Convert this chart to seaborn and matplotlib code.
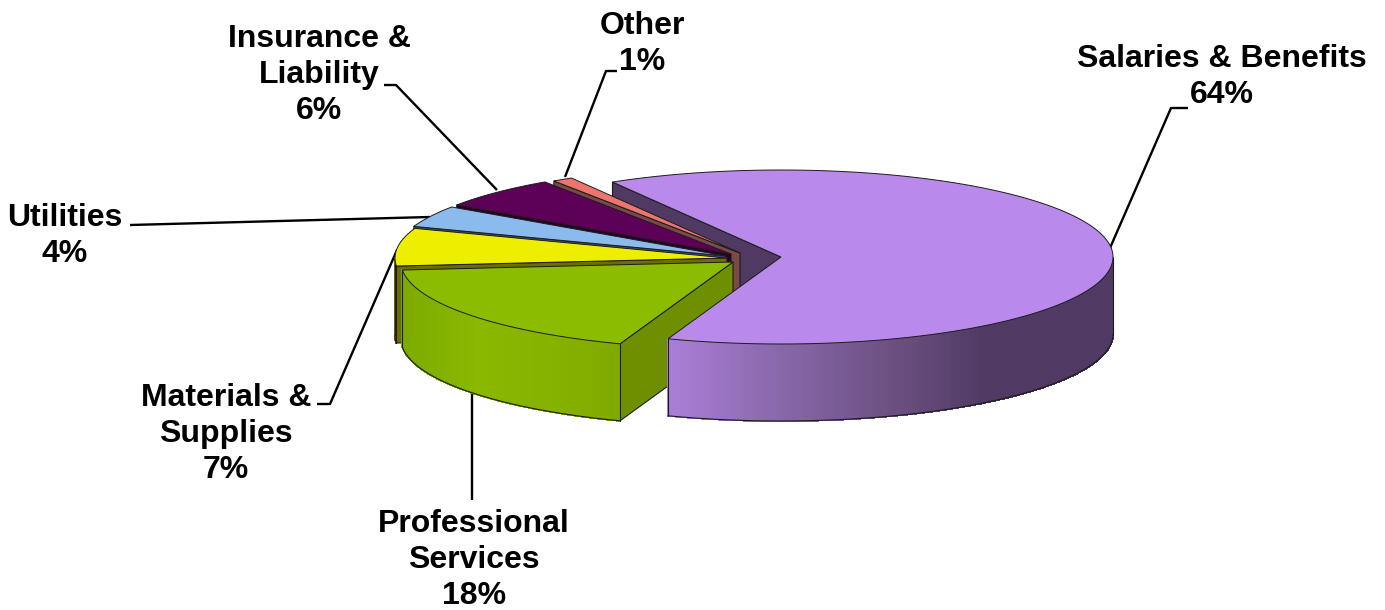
import numpy as np
import matplotlib
matplotlib.use("Agg")
import matplotlib.pyplot as plt
from matplotlib.collections import PolyCollection
from matplotlib.patches import Polygon
import seaborn as sns

# Budget shares, clockwise from the start angle
categories = ["Salaries & Benefits", "Professional\nServices", "Materials &\nSupplies",
              "Utilities", "Insurance &\nLiability", "Other"]
shares = [64, 18, 7, 4, 6, 1]

top_colors = ["#b98aec", "#8cbc00", "#eeee00", "#8abbec", "#5c0058", "#ee7470"]
wall_colors = ["#503a64", "#6e9000", "#6e6e00", "#3c5268", "#2a0028", "#7a4a48"]
# Shading stops along the rim: (left x, right x, colours)
rim_shades = {
    0: (669, 985, ["#a87fd6", "#8a68ab", "#6f5285", "#503a64"]),
    1: (403, 622, ["#7dab00", "#8ab800", "#86b200", "#80a800"]),
}

# Exploded slice apex positions, in figure pixels
apexes = [(781, 257), (733, 262), (727, 258), (726, 256), (731, 254), (740, 253)]

# Labels: text centre and leader path
label_pos = [(1222, 77), (474, 560), (226, 434), (65, 236), (319, 75), (642, 44)]
leaders = [
    [(1110, 248), (1171, 108), (1188, 108)],
    [(472, 393), (472, 500)],
    [(397, 250), (330, 404), (317, 404)],
    [(430, 217), (130, 225)],
    [(497, 190), (396, 85), (384, 85)],
    [(565, 177), (606, 71), (617, 71)],
]

RX, RY, DEPTH = 332, 87, 77
START = 120.5
EDGE = "#1c1c1c"

sns.set_theme(style="white")
plt.rcParams["font.family"] = ["Liberation Sans", "DejaVu Sans"]

fig = plt.figure(figsize=(13.85, 6.10), dpi=100, facecolor="white")
ax = fig.add_axes([0, 0, 1, 1])
ax.set_xlim(0, 1385)
ax.set_ylim(610, 0)
ax.axis("off")

cum = np.cumsum([0] + shares)
spans = [(START - cum[i] * 3.6, START - cum[i + 1] * 3.6) for i in range(len(shares))]


def rim_point(i, deg):
    cx, cy = apexes[i]
    t = np.radians(deg)
    return cx + RX * np.cos(t), cy - RY * np.sin(t)


def side_wall(i, deg, zorder):
    """Flat cut face running from the apex to the rim at a given angle."""
    cx, cy = apexes[i]
    x, y = rim_point(i, deg)
    ax.add_patch(Polygon([(cx, cy), (x, y), (x, y + DEPTH), (cx, cy + DEPTH)], closed=True,
                         facecolor=wall_colors[i], edgecolor=EDGE, lw=0.8, zorder=zorder))


def rim_wall(i, zorder):
    """Curved outer face; only the part turned towards the viewer is drawn."""
    a, b = spans[i]
    th = np.linspace(a, b, 420)
    th = th[np.sin(np.radians(th)) <= 0]
    if th.size < 2:
        return
    xs, ys = rim_point(i, th)
    if i in rim_shades:
        x0, x1, stops = rim_shades[i]
        pal = sns.blend_palette(stops, n_colors=128)
        idx = np.clip(((xs[:-1] + xs[1:]) / 2 - x0) / (x1 - x0) * 127, 0, 127).astype(int)
        cols = [pal[k] for k in idx]
    else:
        cols = [wall_colors[i]] * (th.size - 1)
    verts = [[(xs[k], ys[k]), (xs[k + 1], ys[k + 1]),
              (xs[k + 1], ys[k + 1] + DEPTH), (xs[k], ys[k] + DEPTH)]
             for k in range(th.size - 1)]
    ax.add_collection(PolyCollection(verts, facecolors=cols, edgecolors=cols, lw=0.8,
                                     antialiaseds=False, zorder=zorder))
    ax.plot(xs, ys + DEPTH, color=EDGE, lw=0.8, zorder=zorder + 0.1)
    for end in (0, -1):
        ax.plot([xs[end], xs[end]], [ys[end], ys[end] + DEPTH], color=EDGE, lw=0.8, zorder=zorder + 0.1)


def top_face(i, zorder):
    a, b = spans[i]
    th = np.linspace(a, b, 200)
    xs, ys = rim_point(i, th)
    pts = [apexes[i]] + list(zip(xs, ys))
    ax.add_patch(Polygon(pts, closed=True, facecolor=top_colors[i], edgecolor=EDGE, lw=0.7,
                         joinstyle="miter", zorder=zorder))


# Back-to-front: the large slice's cut face sits behind the small slices,
# its top and rim sit in front of them.
side_wall(0, spans[0][0], 1)
z = 2
for i in [5, 4, 3, 2, 1]:
    side_wall(i, spans[i][0], z)
    rim_wall(i, z + 0.2)
    top_face(i, z + 0.4)
    z += 1
rim_wall(0, z)
top_face(0, z + 0.4)

for path, name, share, (tx, ty) in zip(leaders, categories, shares, label_pos):
    px, py = zip(*path)
    ax.plot(px, py, color="black", lw=1.7, solid_capstyle="butt", zorder=0.5)
    ax.text(tx, ty, f"{name}\n{share}%", ha="center", va="center", ma="center",
            fontsize=23, fontweight="bold", color="black", linespacing=1.28, zorder=20)

fig.savefig("out.png", dpi=100, facecolor="white")
